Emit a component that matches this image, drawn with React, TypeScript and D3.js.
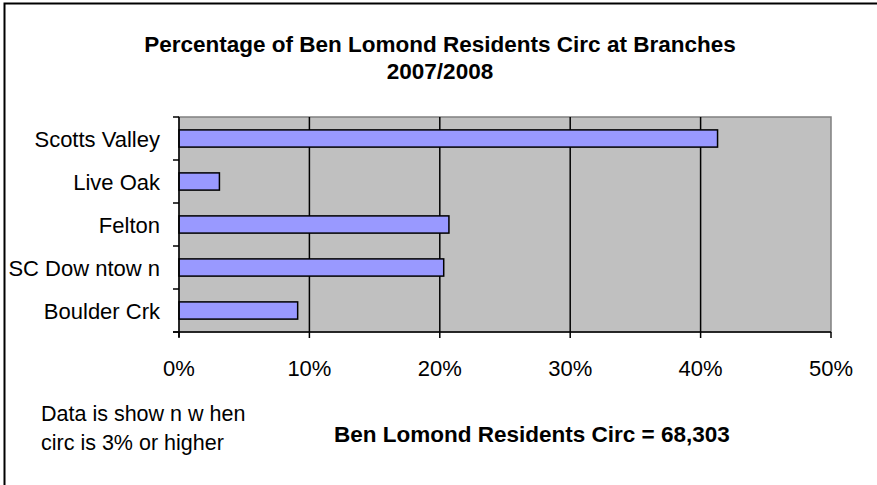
import React from "react";
import * as d3 from "d3";

const branches = ["Scotts Valley", "Live Oak", "Felton", "SC Dow ntow n", "Boulder Crk"];
const shares = [41.3, 3.1, 20.7, 20.3, 9.1];
const xTicks = [0, 10, 20, 30, 40, 50];
const titleLines = ["Percentage of Ben Lomond Residents Circ at Branches", "2007/2008"];
const noteLines = ["Data is show n w hen", "circ is 3% or higher"];
const totalLabel = "Ben Lomond Residents Circ = 68,303";

const W = 877;
const H = 485;
const plot = { left: 179, right: 831, top: 117, bottom: 332 };
const font = "'Liberation Sans', Arial, sans-serif";

export default function App() {
  const x = d3.scaleLinear().domain([0, 50]).range([plot.left, plot.right]);
  const y = d3
    .scaleBand<string>()
    .domain(branches)
    .range([plot.top, plot.bottom])
    .paddingInner(0.6)
    .paddingOuter(0.3);
  const band = d3.scaleBand<string>().domain(branches).range([plot.top, plot.bottom]);
  const bandEdges = [...branches.map((b) => band(b)!), plot.bottom];

  return (
    <svg
      width={W}
      height={H}
      style={{ position: "absolute", left: 0, top: 0, background: "#fff" }}
      fontFamily={font}
    >
      <rect x={4.5} y={3.5} width={W + 10} height={H + 10} fill="#fff" stroke="#000" strokeWidth={2} />

      {titleLines.map((t, i) => (
        <text
          key={t}
          x={440}
          y={52 + i * 27}
          textAnchor="middle"
          fontSize={22.5}
          fontWeight="bold"
          fill="#000"
        >
          {t}
        </text>
      ))}

      <rect
        x={plot.left}
        y={plot.top}
        width={plot.right - plot.left}
        height={plot.bottom - plot.top}
        fill="#C0C0C0"
        stroke="#808080"
        strokeWidth={1.5}
      />

      {xTicks.slice(1, -1).map((t) => (
        <line key={t} x1={x(t)} x2={x(t)} y1={plot.top} y2={plot.bottom} stroke="#000" strokeWidth={1.5} />
      ))}

      {branches.map((b, i) => (
        <rect
          key={b}
          x={x(0)}
          y={y(b)!}
          width={x(shares[i]) - x(0)}
          height={y.bandwidth()}
          fill="#9999FF"
          stroke="#000"
          strokeWidth={1.5}
        />
      ))}

      <line x1={plot.left} x2={plot.left} y1={plot.top} y2={plot.bottom + 5} stroke="#000" strokeWidth={1.5} />
      <line x1={plot.left - 6} x2={plot.right} y1={plot.bottom} y2={plot.bottom} stroke="#000" strokeWidth={1.5} />
      {bandEdges.map((e, i) => (
        <line key={i} x1={plot.left - 6} x2={plot.left} y1={e} y2={e} stroke="#000" strokeWidth={1.5} />
      ))}
      {xTicks.map((t) => (
        <line key={t} x1={x(t)} x2={x(t)} y1={plot.bottom} y2={plot.bottom + 6} stroke="#000" strokeWidth={1.5} />
      ))}

      {branches.map((b) => (
        <text
          key={b}
          x={160}
          y={band(b)! + band.bandwidth() / 2 + 1}
          dy="0.35em"
          textAnchor="end"
          fontSize={22}
          fill="#000"
        >
          {b}
        </text>
      ))}

      {xTicks.map((t) => (
        <text key={t} x={x(t)} y={376} textAnchor="middle" fontSize={22} fill="#000">
          {`${t}%`}
        </text>
      ))}

      {noteLines.map((t, i) => (
        <text key={t} x={41} y={421 + i * 29} fontSize={21.5} fill="#000">
          {t}
        </text>
      ))}

      <text x={334} y={442} fontSize={22.5} fontWeight="bold" fill="#000">
        {totalLabel}
      </text>
    </svg>
  );
}
